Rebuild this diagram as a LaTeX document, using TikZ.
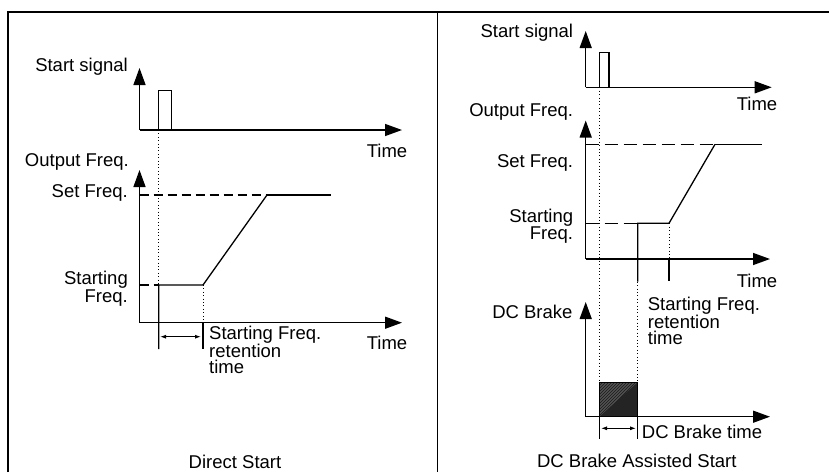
\documentclass[tikz,border=0pt]{standalone}
\usepackage{fontspec}
\setmainfont{Liberation Sans}
\usetikzlibrary{arrows.meta,patterns}
\begin{document}
\begin{tikzpicture}[x=1pt,y=-1pt,
  ln/.style={line width=1.3pt},
  axis/.style={line width=1.4pt,-{Triangle[length=17pt,width=12pt]}},
  dsh/.style={line width=1.1pt,dash pattern=on 9pt off 5pt},
  dshr/.style={line width=1.1pt,dash pattern=on 13pt off 6pt},
  dot/.style={line width=1pt,dash pattern=on 1pt off 2.4pt},
  dim/.style={line width=1pt,{Latex[length=6pt,width=4pt]}-{Latex[length=6pt,width=4pt]}},
  lbl/.style={inner sep=0pt,font=\fontsize{18.5}{18}\selectfont},
  lbl2/.style={inner sep=0pt,font=\fontsize{18.5}{15.5}\selectfont,align=left}]
\useasboundingbox (0,0) rectangle (830,472);
% frame
\coordinate (fL) at (8,12); \coordinate (fR) at (829,12);
\coordinate (fLb) at (8,472); \coordinate (fD) at (437.3,12); \coordinate (fDb) at (437.3,472);
\draw[line width=1.4pt] (fLb) -- (fL) -- (fR);
\draw[line width=1.4pt] (fD) -- (fDb);

% ===== Left panel =====
\coordinate (a1o) at (139.5,130);
\coordinate (a1t) at (139.5,68);
\coordinate (a1r) at (402,130);
\draw[axis] (a1o) -- (a1t);
\draw[axis] (a1o) -- (a1r);
\coordinate (p1a) at (158.7,130); \coordinate (p1b) at (158.7,90.7);
\coordinate (p1c) at (171.3,90.7); \coordinate (p1d) at (171.3,130);
\draw[ln] (p1a) -- (p1b) -- (p1c) -- (p1d);

\coordinate (a2o) at (139.5,322.7);
\coordinate (a2t) at (139.5,170);
\coordinate (a2r) at (402,322.7);
\draw[axis] (a2o) -- (a2t);
\draw[axis] (a2o) -- (a2r);
\coordinate (s1) at (139.5,195); \coordinate (s2) at (267,195); \coordinate (s3) at (331,195);
\draw[dsh] (s1) -- (s2);
\draw[ln] (s2) -- (s3);
\coordinate (q0) at (139.5,285); \coordinate (q1) at (158.7,285); \coordinate (q2) at (203,285);
\coordinate (q1b) at (158.7,349);
\draw[dsh] (q0) -- (q1);
\draw[ln] (q1b) -- (q1) -- (q2) -- (s2);
\draw[dot] (p1a) -- (q1);
\coordinate (q2m) at (203,322.7); \coordinate (q2b) at (203,349);
\draw[dot] (q2) -- (q2m);
\draw[ln] (q2m) -- (q2b);
\coordinate (d1a) at (160,336.7); \coordinate (d1b) at (201,336.7);
\draw[dim] (d1a) -- (d1b);

\node[lbl,anchor=east] (tss1) at (128,67) {Start signal};
\node[lbl] (tt1) at (387,151) {Time};
\node[lbl,anchor=east] (tof1) at (129,162) {Output Freq.};
\node[lbl,anchor=east] (tsf1) at (128,193) {Set Freq.};
\node[lbl,anchor=east,align=right] (tst1) at (128,288.5) {Starting\\Freq.};
\node[lbl] (tt2) at (387,343) {Time};
\node[lbl2,anchor=west] (tsr1) at (209,350) {Starting Freq.\\retention\\time};
\node[lbl] (tds) at (235,462) {Direct Start};

% ===== Right panel =====
\coordinate (b1o) at (585.7,87.3);
\coordinate (b1t) at (585.7,31);
\coordinate (b1r) at (771.7,87.3);
\draw[axis] (b1o) -- (b1t);
\draw[axis] (b1o) -- (b1r);
\coordinate (p2a) at (599.3,87.3); \coordinate (p2b) at (599.3,52.7);
\coordinate (p2c) at (609,52.7); \coordinate (p2d) at (609,87.3);
\draw[ln] (p2a) -- (p2b) -- (p2c) -- (p2d);

\coordinate (b2o) at (585.7,259);
\coordinate (b2t) at (585.7,120.5);
\coordinate (b2r) at (770,259);
\draw[axis] (b2o) -- (b2t);
\draw[axis] (b2o) -- (b2r);
\coordinate (r1) at (585.7,144.3); \coordinate (r2) at (715,144.3); \coordinate (r3) at (761.7,144.3);
\draw[dshr] (r1) -- (r2);
\draw[ln] (r2) -- (r3);
\coordinate (u0) at (585.7,223.3); \coordinate (u1) at (637.7,223.3); \coordinate (u2) at (669,223.3);
\coordinate (u1b) at (637.7,281.7);
\draw[dshr] (u0) -- (u1);
\draw[ln] (u1b) -- (u1) -- (u2) -- (r2);
\coordinate (u2m) at (669,259); \coordinate (u2b) at (669,281);
\draw[dot] (u2) -- (u2m);
\draw[ln] (u2m) -- (u2b);

\coordinate (b3o) at (585.7,416.7);
\coordinate (b3t) at (585.7,302);
\coordinate (b3r) at (770,416.7);
\coordinate (bx1) at (599.3,382.3); \coordinate (bx2) at (637.7,416.7);
\coordinate (bx3) at (637.7,382.3); \coordinate (bx4) at (599.3,416.7);
\fill[black!68] (bx1) rectangle (bx2);
\fill[pattern=north east lines,pattern color=black!90] (bx1) rectangle (bx2);
\fill[black!86] (bx3) -- (bx2) -- (bx4) -- cycle;
\draw[line width=1pt] (bx4) -- (bx1) -- (bx3) -- (bx2);
\draw[axis] (b3o) -- (b3t);
\draw[axis] (b3o) -- (b3r);
\draw[dot] (p2a) -- (bx1);
\draw[dot] (u1b) -- (bx3);
\coordinate (t1b) at (599.3,439.3); \coordinate (t2b) at (637.7,439.3);
\draw[ln] (bx4) -- (t1b);
\draw[ln] (bx2) -- (t2b);
\coordinate (d2a) at (601,428.3); \coordinate (d2b) at (636,428.3);
\draw[dim] (d2a) -- (d2b);

\node[lbl,anchor=east] (tss2) at (573.3,33) {Start signal};
\node[lbl] (tt3) at (757,104.3) {Time};
\node[lbl,anchor=east] (tof2) at (573.3,111.7) {Output Freq.};
\node[lbl,anchor=east] (tsf2) at (573.3,163.3) {Set Freq.};
\node[lbl,anchor=east,align=right,font=\fontsize{18.5}{17}\selectfont] (tst2) at (573.3,226.5) {Starting\\Freq.};
\node[lbl] (tt4) at (757,280.7) {Time};
\node[lbl2,anchor=west] (tsr2) at (647.7,321) {Starting Freq.\\retention\\time};
\node[lbl,anchor=east] (tdc) at (572.7,311.7) {DC Brake};
\node[lbl,anchor=west] (tdct) at (641.7,431.7) {DC Brake time};
\node[lbl] (tdba) at (636.8,461) {DC Brake Assisted Start};
\end{tikzpicture}
\end{document}
